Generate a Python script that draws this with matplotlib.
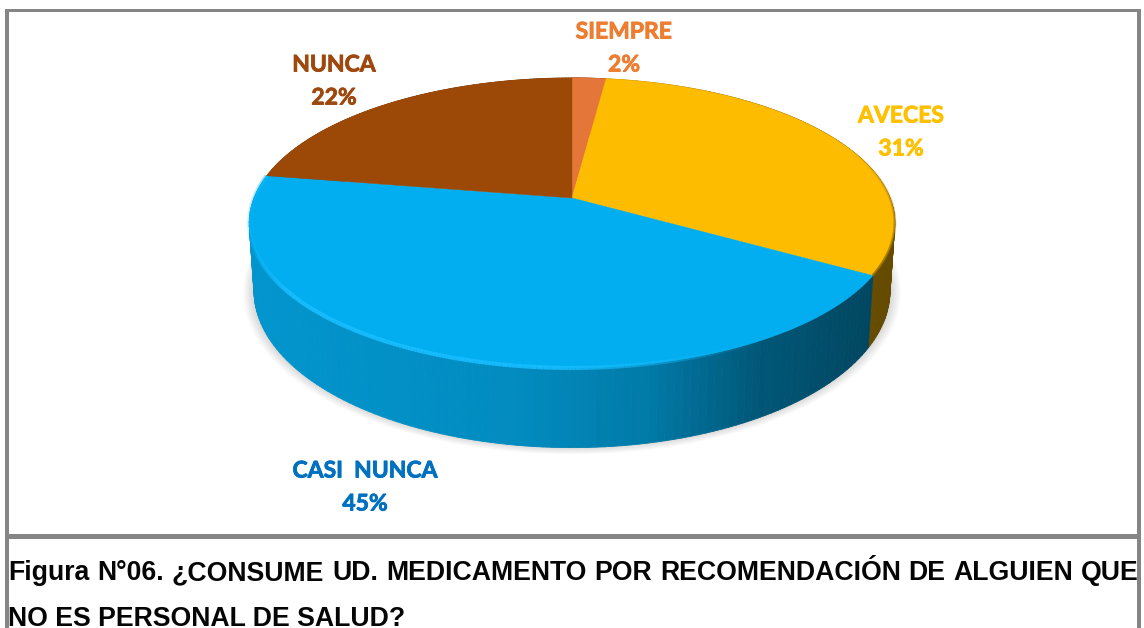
import numpy as np
import matplotlib
matplotlib.use('Agg')
import matplotlib.pyplot as plt
import matplotlib.patheffects as pe
from matplotlib.collections import PolyCollection, LineCollection
from matplotlib.colors import to_rgb
from matplotlib.patches import Rectangle

categorias = ['SIEMPRE', 'AVECES', 'CASI  NUNCA', 'NUNCA']
valores = [2.0, 31.4, 44.2, 22.4]
etiquetas = ['2%', '31%', '45%', '22%']
colores = ['#E4763A', '#FDBC00', '#02AEEF', '#9C4908']
colores_texto = ['#ED7D31', '#FFC000', '#0070C0', '#9E480E']
pos_texto = [(624, 32), (901, 116), (365, 471), (334, 65)]

leyenda = ['Figura N°06. ¿CONSUME UD. MEDICAMENTO POR RECOMENDACIÓN DE ALGUIEN QUE',
           'NO ES PERSONAL DE SALUD?']

# perspectiva del pastel
CX, CY = 572, 198
RX, RY, K = 318, 140.7, 0.172
PROF = 66
GRIS = '#858585'
TAM = 19.2


def rim(theta):
    u, v = np.sin(theta), np.cos(theta)
    return CX + RX * u / (1 + K * v), CY - RY * v / (1 + K * v)


def base(theta):
    x, y = rim(theta)
    d = PROF / (1 + K * np.cos(theta))
    return CX + (x - CX) * 0.985, y + d


def sombra_color(col, x):
    # la pared se oscurece hacia la derecha
    f = np.interp(x, [250, 520, 650, 760, 880], [0.86, 0.80, 0.70, 0.50, 0.40])
    return tuple(c * f for c in to_rgb(col))


fig = plt.figure(figsize=(11.44, 6.28), dpi=100)
ax = fig.add_axes([0, 0, 1, 1])
ax.set_xlim(0, 1144)
ax.set_ylim(628, 0)
ax.axis('off')

acum = np.cumsum([0] + valores) / sum(valores) * 2 * np.pi

# sombra suave
t = np.linspace(0, 2 * np.pi, 300)
bx, by = base(t)
for s in np.linspace(1.035, 1.0, 14):
    ax.fill(CX + (bx - CX) * s, 235 + (by - 235) * (s * 0.997), color='k', alpha=0.012, lw=0, zorder=1)

# pared lateral
polys, cols = [], []
for i, col in enumerate(colores):
    ts = np.linspace(acum[i], acum[i + 1], 120)
    for a, b in zip(ts[:-1], ts[1:]):
        xa, ya = rim(a)
        xb, yb = rim(b)
        xc, yc = base(b)
        xd, yd = base(a)
        polys.append([(xa, ya), (xb, yb), (xc, yc), (xd, yd)])
        cols.append(sombra_color(col, (xa + xb) / 2))
# de atras hacia adelante
orden = np.argsort([p[0][1] for p in polys])
ax.add_collection(PolyCollection([polys[j] for j in orden], facecolors=[cols[j] for j in orden],
                                 edgecolors=[cols[j] for j in orden], linewidths=0.6, zorder=2))

# cara superior
for i, col in enumerate(colores):
    ts = np.linspace(acum[i], acum[i + 1], 200)
    x, y = rim(ts)
    ax.fill(np.r_[CX, x], np.r_[CY, y], color=col, lw=0.3, zorder=3)

# brillo del borde frontal
ts = np.linspace(acum[2] + 0.02, acum[3], 300)
x, y = rim(ts)
seg = np.stack([np.c_[x[:-1], y[:-1]], np.c_[x[1:], y[1:]]], axis=1)
alfa = np.interp(x[:-1], [250, 290, 560, 760], [0.2, 1.0, 0.9, 0.0])
ax.add_collection(LineCollection(seg, colors=[(0.09, 0.74, 1.0, a) for a in alfa], linewidths=3.0, zorder=4))

# borde oscuro a la derecha (AVECES)
ts = np.linspace(acum[2] - 0.9, acum[2], 80)
x, y = rim(ts)
seg = np.stack([np.c_[x[:-1], y[:-1]], np.c_[x[1:], y[1:]]], axis=1)
alfa = np.linspace(0.0, 0.75, len(seg))
ax.add_collection(LineCollection(seg, colors=[(0.5, 0.38, 0.0, a) for a in alfa], linewidths=2.0, zorder=4))

# etiquetas
for cat, et, col, (x, y) in zip(categorias, etiquetas, colores_texto, pos_texto):
    for txt, yy in [(cat, y), (et, y + 33)]:
        ax.text(x, yy, txt, color=col, fontsize=16.5, fontweight='bold', family='Lato',
                ha='center', va='center', zorder=6,
                path_effects=[pe.withStroke(linewidth=0.6, foreground=col)])

# leyenda: primera linea justificada
rend = fig.canvas.get_renderer()
palabras = leyenda[0].split(' ')
textos = [ax.text(0, 580.5, p, fontsize=TAM, fontweight='bold', family='Liberation Sans',
                  color='#050505', va='baseline', ha='left', zorder=5) for p in palabras]
anchos = [tx.get_window_extent(rend).width for tx in textos]
hueco = (1139 - 8 - sum(anchos)) / (len(palabras) - 1)
xx = 8
for tx, w in zip(textos, anchos):
    tx.set_x(xx)
    xx += w + hueco
ax.text(8, 626, leyenda[1], fontsize=TAM, fontweight='bold', family='Liberation Sans',
        color='#050505', va='baseline', ha='left', zorder=5)

# marco
ax.add_patch(Rectangle((4.5, 9), 1135.5, 2.5, color=GRIS, lw=0, zorder=7))
ax.add_patch(Rectangle((4.5, 534), 1135.5, 5, color=GRIS, lw=0, zorder=7))
ax.add_patch(Rectangle((4.5, 9), 4, 619, color=GRIS, lw=0, zorder=7))
ax.add_patch(Rectangle((1136.5, 9), 4, 619, color=GRIS, lw=0, zorder=7))

fig.savefig('out.png', dpi=100)
plt.close(fig)
